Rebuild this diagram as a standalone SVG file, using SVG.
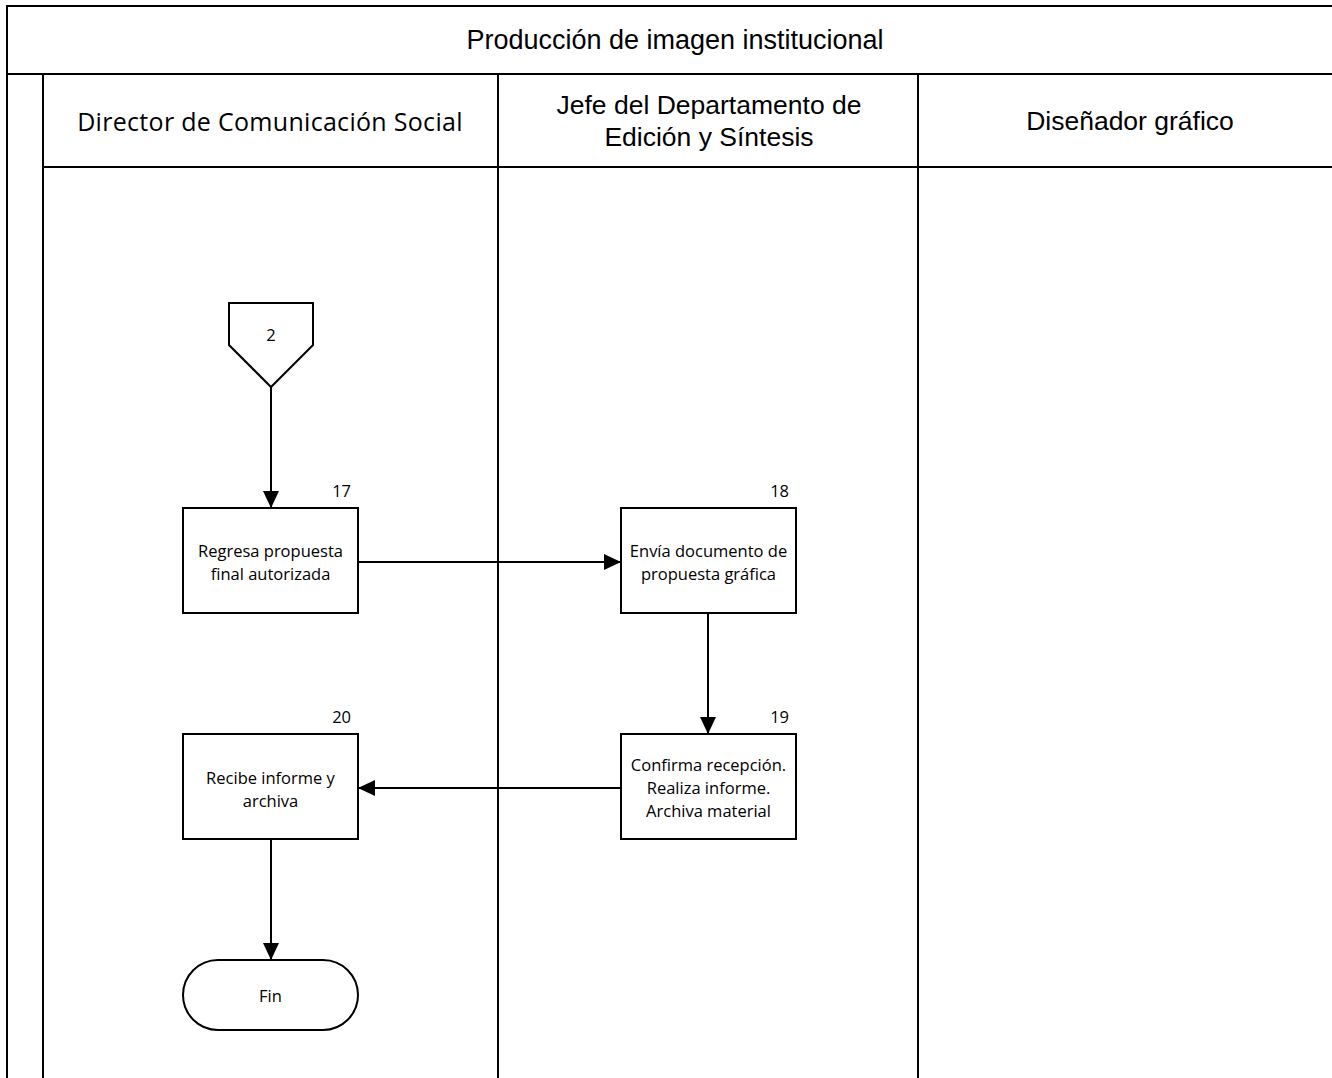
<svg xmlns="http://www.w3.org/2000/svg" width="1332" height="1078" viewBox="0 0 1332 1078">
  <style>
    .frame { fill: none; stroke: #000; stroke-width: 2; }
    .shape { fill: #fff; stroke: #000; stroke-width: 2; }
    .edge { fill: none; stroke: #000; stroke-width: 2; }
    .title { font-family: "Liberation Sans", Arial, sans-serif; font-size: 27px; fill: #000; text-anchor: middle; }
    .lane { font-family: "Liberation Sans", Arial, sans-serif; font-size: 26.5px; fill: #000; text-anchor: middle; }
    .lane-c { font-family: "Open Sans", "Noto Sans", sans-serif; font-size: 25px; letter-spacing: 0.3px; fill: #000; text-anchor: middle; }
    .label { font-family: "Open Sans", "Noto Sans", sans-serif; font-size: 16.5px; fill: #000; text-anchor: middle; }
    .num { font-family: "Open Sans", "Noto Sans", sans-serif; font-size: 16.5px; fill: #000; text-anchor: end; }
  </style>
  <defs>
    <marker id="arrow" viewBox="0 0 17 16" refX="17" refY="8" markerWidth="17" markerHeight="16" markerUnits="userSpaceOnUse" orient="auto">
      <path d="M0,0 L17,8 L0,16 Z" fill="#000"/>
    </marker>
  </defs>
  <rect width="1332" height="1078" fill="#fff"/>

  <!-- swimlane frame -->
  <g id="pool">
    <line class="frame" x1="7" y1="6" x2="1332" y2="6"/>
    <line class="frame" x1="7" y1="5" x2="7" y2="1078"/>
    <line class="frame" x1="7" y1="74" x2="1332" y2="74"/>
    <line class="frame" x1="43" y1="74" x2="43" y2="1078"/>
    <line class="frame" x1="43" y1="167" x2="1332" y2="167"/>
    <line class="frame" x1="498" y1="74" x2="498" y2="1078"/>
    <line class="frame" x1="918" y1="74" x2="918" y2="1078"/>
    <text class="title" x="675" y="49">Producción de imagen institucional</text>
    <text class="lane-c" x="270" y="131">Director de Comunicación Social</text>
    <text class="lane" x="709" y="114">Jefe del Departamento de</text>
    <text class="lane" x="709" y="146">Edición y Síntesis</text>
    <text class="lane" x="1130" y="130">Diseñador gráfico</text>
  </g>

  <!-- connectors -->
  <g id="connectors">
    <line class="edge" x1="271" y1="387" x2="271" y2="508" marker-end="url(#arrow)"/>
    <line class="edge" x1="358" y1="562" x2="621" y2="562" marker-end="url(#arrow)"/>
    <line class="edge" x1="708" y1="613" x2="708" y2="734" marker-end="url(#arrow)"/>
    <line class="edge" x1="621" y1="788" x2="358" y2="788" marker-end="url(#arrow)"/>
    <line class="edge" x1="271" y1="839" x2="271" y2="960" marker-end="url(#arrow)"/>
  </g>

  <g id="offpage-2">
    <path class="shape" d="M229,303 H313 V345 L271,387 L229,345 Z"/>
    <text class="label" x="271" y="341">2</text>
  </g>

  <g id="step-17">
    <rect class="shape" x="183" y="508" width="175" height="105"/>
    <text class="num" x="351" y="497">17</text>
    <text class="label" x="270.5" y="557">Regresa propuesta</text>
    <text class="label" x="270.5" y="580">final autorizada</text>
  </g>

  <g id="step-18">
    <rect class="shape" x="621" y="508" width="175" height="105"/>
    <text class="num" x="789" y="497">18</text>
    <text class="label" x="708.5" y="557">Envía documento de</text>
    <text class="label" x="708.5" y="580">propuesta gráfica</text>
  </g>

  <g id="step-19">
    <rect class="shape" x="621" y="734" width="175" height="105"/>
    <text class="num" x="789" y="723">19</text>
    <text class="label" x="708.5" y="771">Confirma recepción.</text>
    <text class="label" x="708.5" y="794">Realiza informe.</text>
    <text class="label" x="708.5" y="817">Archiva material</text>
  </g>

  <g id="step-20">
    <rect class="shape" x="183" y="734" width="175" height="105"/>
    <text class="num" x="351" y="723">20</text>
    <text class="label" x="270.5" y="784">Recibe informe y</text>
    <text class="label" x="270.5" y="807">archiva</text>
  </g>

  <g id="end">
    <rect class="shape" x="183" y="960" width="175" height="70" rx="35" ry="35"/>
    <text class="label" x="270.5" y="1002">Fin</text>
  </g>
</svg>
